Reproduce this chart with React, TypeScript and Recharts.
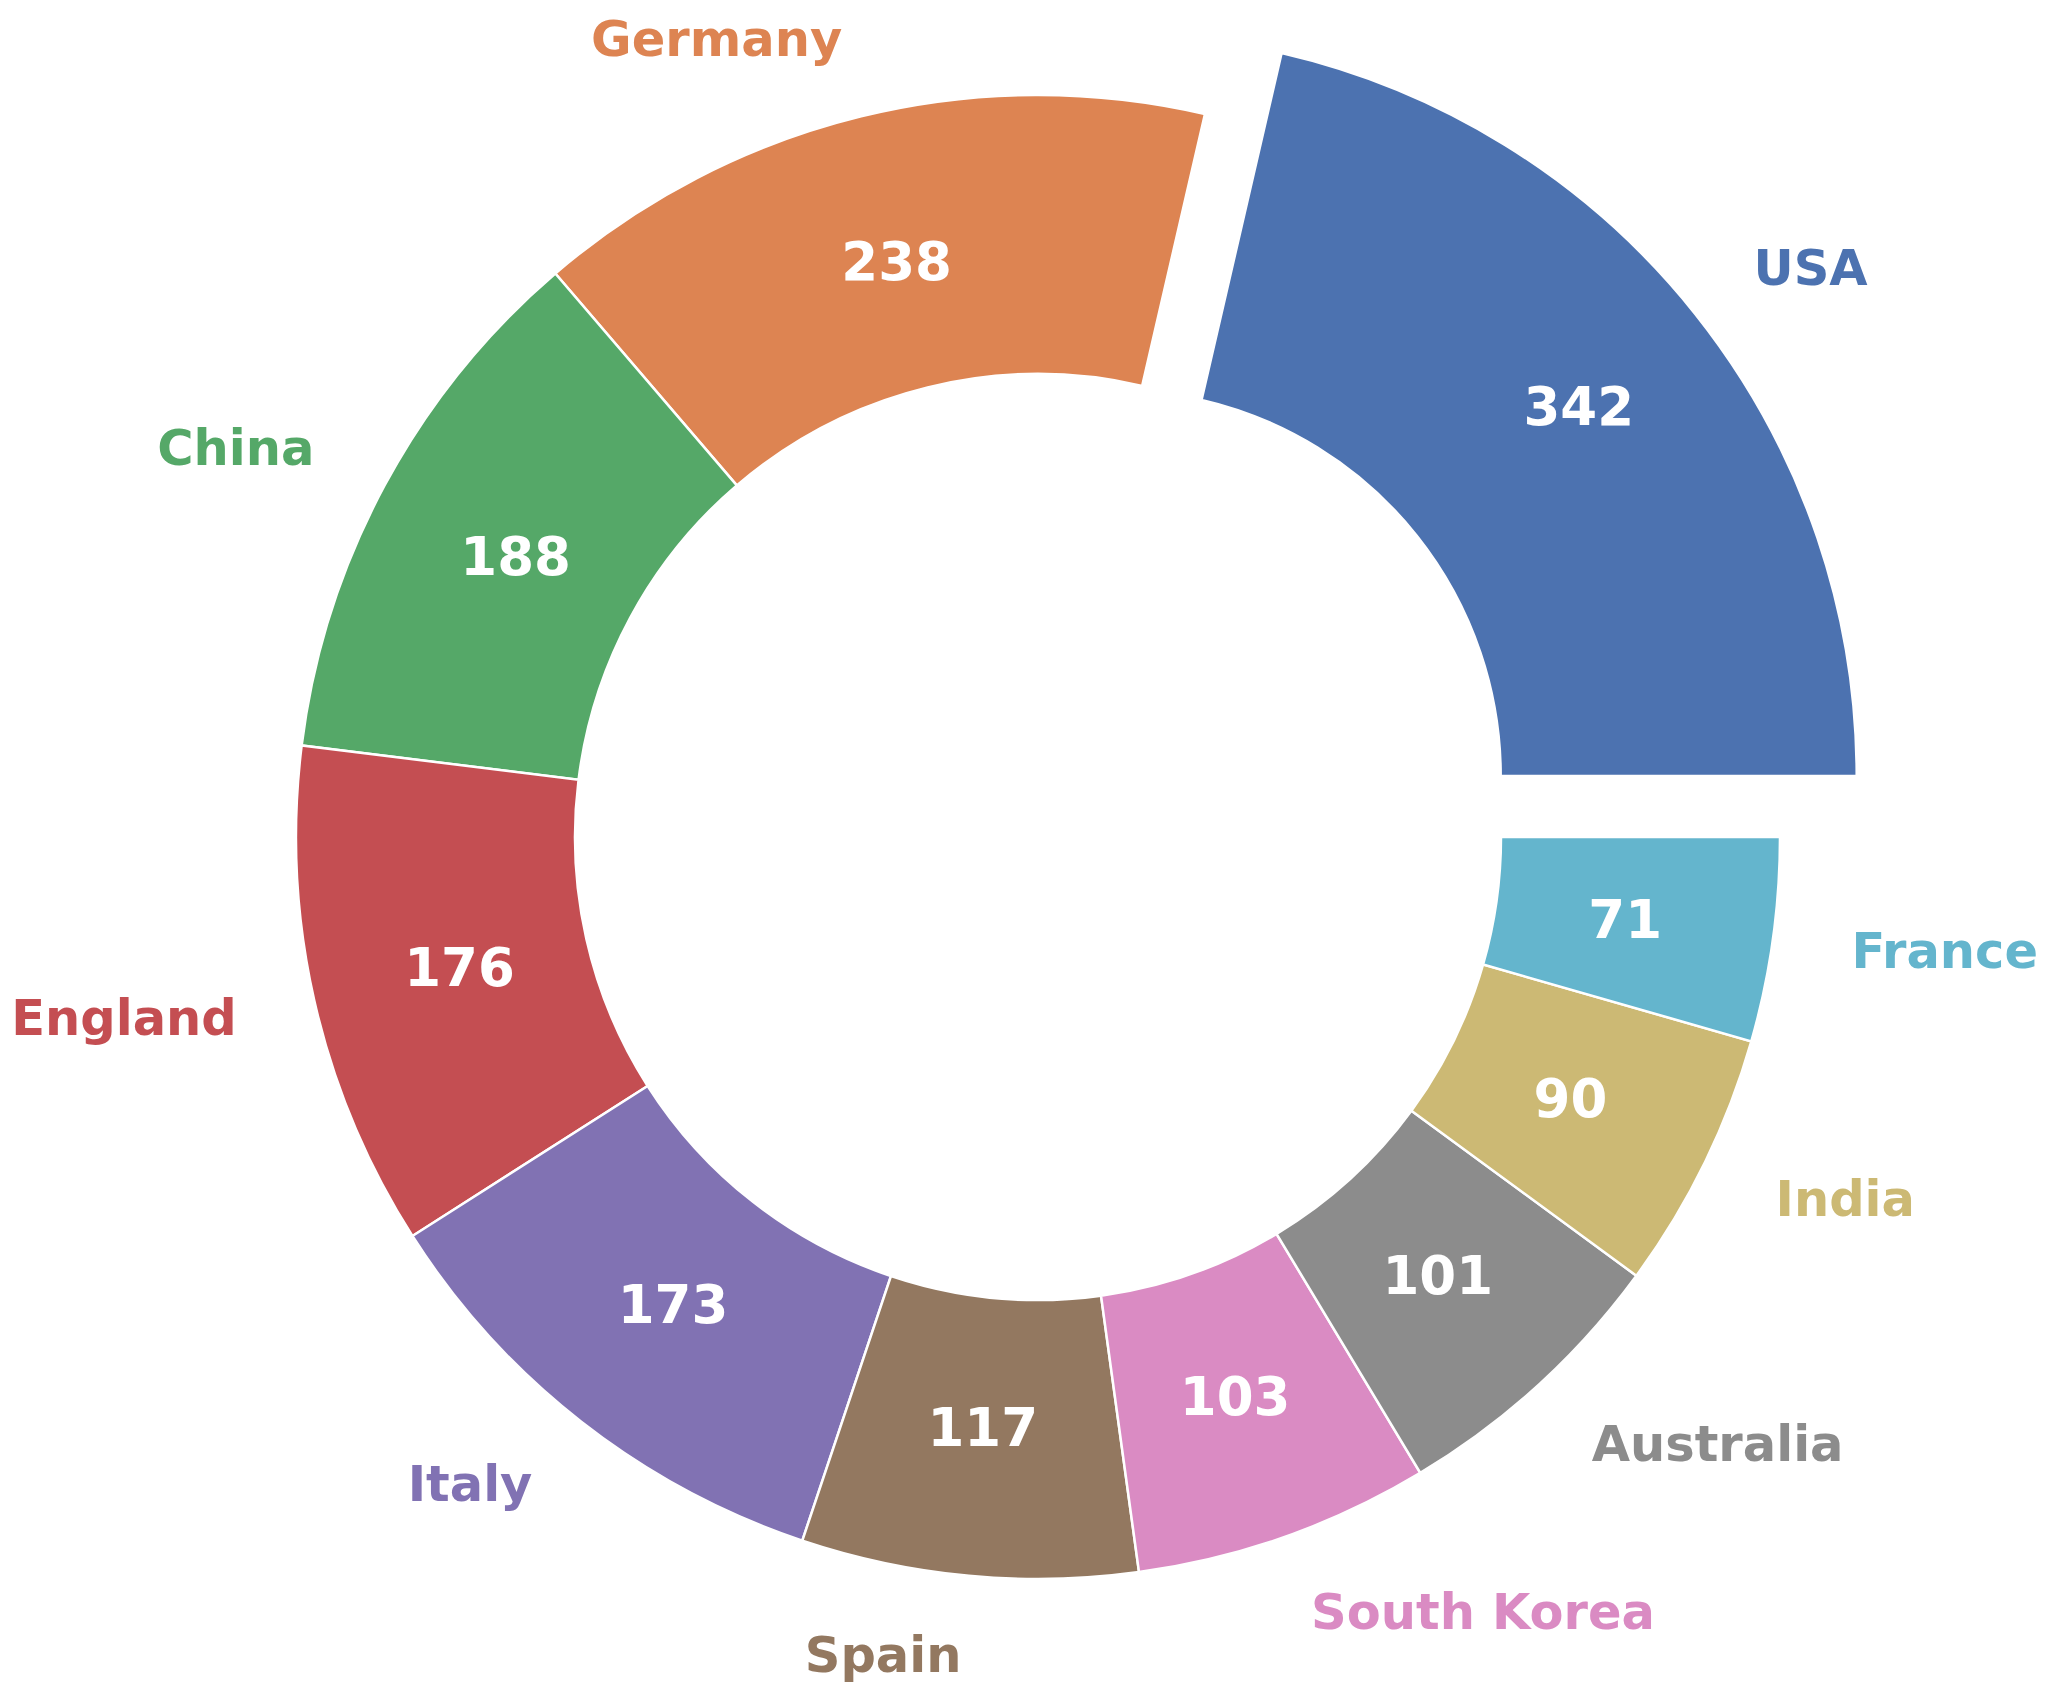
import React from 'react';
import { PieChart, Pie, Cell } from 'recharts';

const countries = ['USA', 'Germany', 'China', 'England', 'Italy', 'Spain', 'South Korea', 'Australia', 'India', 'France'];
const values = [342, 238, 188, 176, 173, 117, 103, 101, 90, 71];
const colors = ['#4C72B0', '#DD8452', '#55A868', '#C44E52', '#8172B3', '#937860', '#DA8BC3', '#8C8C8C', '#CCB974', '#64B5CD'];
const explodedIndex = 0;

const data = countries.map((name, i) => ({ name, value: values[i] }));

const W = 2047;
const H = 1696;
const CX = 1038;
const CY = 837;
const OUTER = 742;
const INNER = 463;
const INNER_EXPLODED = 386;
const EXPLODE = 98;
const VALUE_R = 593;
const NAME_FACTOR = 1.107;
const NAME_FACTOR_EXPLODED = 1.1;
const FONT = '"DejaVu Sans", sans-serif';
const RAD = Math.PI / 180;

const total = values.reduce((a, b) => a + b, 0);
const before = values.slice(0, explodedIndex).reduce((a, b) => a + b, 0);
const explodeMid = ((before + values[explodedIndex] / 2) / total) * 360;
const EX = EXPLODE * Math.cos(explodeMid * RAD);
const EY = -EXPLODE * Math.sin(explodeMid * RAD);

const makeLabel = (visible: (i: number) => boolean, factor: number) => (props: any) => {
  const { cx, cy, midAngle, outerRadius, index, value, name } = props;
  if (!visible(index)) return <g />;
  const cos = Math.cos(-midAngle * RAD);
  const sin = Math.sin(-midAngle * RAD);
  const rOut = outerRadius * factor;
  const nx = cx + rOut * cos;
  const ny = cy + rOut * sin;
  return (
    <g>
      <text
        x={cx + VALUE_R * cos}
        y={cy + VALUE_R * sin}
        fill="#ffffff"
        textAnchor="middle"
        dominantBaseline="central"
        fontFamily={FONT}
        fontWeight="bold"
        fontSize={53}
      >
        {value}
      </text>
      <text
        x={nx}
        y={ny}
        fill={colors[index]}
        textAnchor={cos > 0 ? 'start' : 'end'}
        dominantBaseline="central"
        fontFamily={FONT}
        fontWeight="bold"
        fontSize={49.5}
      >
        {name}
      </text>
    </g>
  );
};

export default function App() {
  return (
    <div style={{ position: 'absolute', left: 0, top: 0, width: W, height: H, background: '#ffffff' }}>
      <PieChart width={W} height={H} margin={{ top: 0, right: 0, bottom: 0, left: 0 }}>
        <Pie
          data={data}
          dataKey="value"
          nameKey="name"
          cx={CX}
          cy={CY}
          innerRadius={INNER}
          outerRadius={OUTER}
          startAngle={0}
          endAngle={360}
          isAnimationActive={false}
          labelLine={false}
          label={makeLabel((i) => i !== explodedIndex, NAME_FACTOR)}
          stroke="#ffffff"
          strokeWidth={2.5}
        >
          {data.map((d, i) => (
            <Cell
              key={d.name}
              fill={i === explodedIndex ? 'none' : colors[i]}
              stroke={i === explodedIndex ? 'none' : '#ffffff'}
            />
          ))}
        </Pie>
        <Pie
          data={data}
          dataKey="value"
          nameKey="name"
          cx={CX + EX}
          cy={CY + EY}
          innerRadius={INNER_EXPLODED}
          outerRadius={OUTER}
          startAngle={0}
          endAngle={360}
          isAnimationActive={false}
          labelLine={false}
          label={makeLabel((i) => i === explodedIndex, NAME_FACTOR_EXPLODED)}
          stroke="#ffffff"
          strokeWidth={2.5}
        >
          {data.map((d, i) => (
            <Cell
              key={d.name}
              fill={i === explodedIndex ? colors[i] : 'none'}
              stroke={i === explodedIndex ? '#ffffff' : 'none'}
            />
          ))}
        </Pie>
      </PieChart>
    </div>
  );
}
